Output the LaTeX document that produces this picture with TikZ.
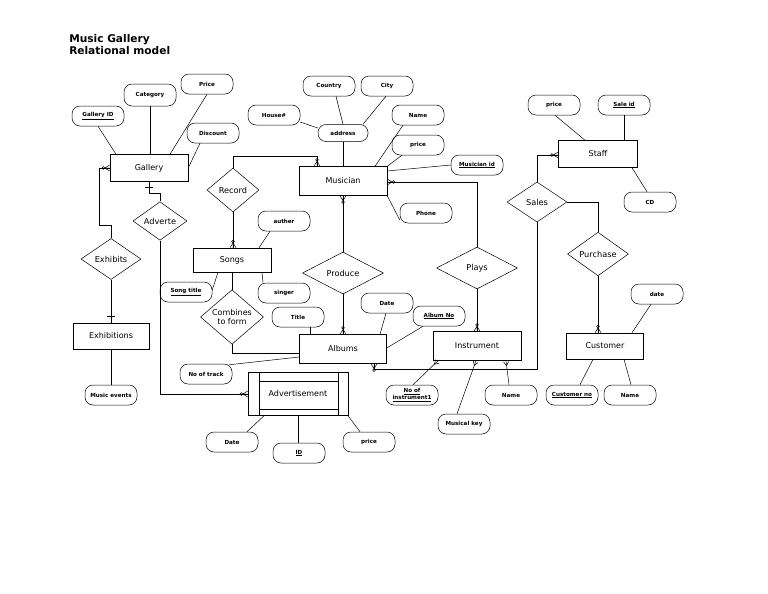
\documentclass[tikz,border=0pt]{standalone}
\usepackage{fontspec}
\setmainfont{DejaVu Sans}
\usetikzlibrary{shapes.geometric}
\newcommand{\crowft}[2]{\begin{scope}[shift={(#1)},rotate=#2]\draw (0,-3)--(5,0)--(0,3) (0,0)--(5,0); \draw (6.4,0) circle[radius=1.4];\end{scope}}
\newcommand{\smallft}[2]{\begin{scope}[shift={(#1)},rotate=#2]\draw (1,-2.5)--(5,0)--(1,2.5);\end{scope}}
\begin{document}
\begin{tikzpicture}[x=1pt,y=-1pt,line width=0.5pt,
  ent/.style={draw,inner sep=0pt,font=\fontsize{8}{9}\selectfont},
  attr/.style={draw,rounded corners=8pt,minimum width=52pt,minimum height=20pt,inner sep=0pt,font=\bfseries\fontsize{5.6}{6}\selectfont},
  rel/.style={draw,diamond,inner sep=0pt,font=\fontsize{8.2}{9}\selectfont,align=center},
  conn/.style={draw,line width=0.5pt}]
\useasboundingbox (0,0) rectangle (768,594);
\node[anchor=north west,align=left,inner sep=0pt,font=\bfseries\fontsize{10.6}{12.5}\selectfont] (heading) at (69,34) {Music Gallery\\Relational model};

% entities
\node[ent,minimum width=78pt,minimum height=27pt] (gallery) at (149,168) {Gallery};
\node[ent,minimum width=88pt,minimum height=29pt] (musician) at (343,181) {Musician};
\node[ent,minimum width=79pt,minimum height=27pt] (staff) at (598,154) {Staff};
\node[ent,minimum width=78pt,minimum height=24pt] (songs) at (232,260) {Songs};
\node[ent,minimum width=87pt,minimum height=29pt] (albums) at (343,349) {Albums};
\node[ent,minimum width=88pt,minimum height=29pt] (instrument) at (477,346) {Instrument};
\node[ent,minimum width=77pt,minimum height=26pt] (customer) at (605,346) {Customer};
\node[ent,minimum width=76pt,minimum height=26pt] (exhibitions) at (111,336) {Exhibitions};
\node[ent,minimum width=100pt,minimum height=43pt] (advert) at (298,394) {Advertisement};
\draw (259,373) -- (259,415.5) (338,373) -- (338,415.5) (259,381) -- (338,381) (259,409) -- (338,409);

% relationships
\node[rel,minimum width=52pt,minimum height=44pt] (record) at (233,190) {Record};
\node[rel,minimum width=54pt,minimum height=36pt] (adverte) at (160,221) {Adverte};
\node[rel,minimum width=60pt,minimum height=41pt] (exhibits) at (111,259) {Exhibits};
\node[rel,minimum width=81pt,minimum height=42pt] (produce) at (343,273) {Produce};
\node[rel,minimum width=81pt,minimum height=42pt] (plays) at (477,268) {Plays};
\node[rel,minimum width=60pt,minimum height=40pt] (sales) at (537,202) {Sales};
\node[rel,minimum width=61pt,minimum height=41pt] (purchase) at (598,254) {Purchase};
\node[rel,minimum width=63pt,minimum height=49pt,font=\fontsize{8}{8.5}\selectfont] (combines) at (232,317) {Combines\\to form};

% attributes
\node[attr] (galleryid) at (98,116) {\underline{Gallery ID}};
\node[attr,minimum height=22pt] (category) at (150,95) {Category};
\node[attr] (gprice) at (207,84) {Price};
\node[attr] (discount) at (213,133) {Discount};
\node[attr] (house) at (274,115) {House\#};
\node[attr] (country) at (329,86) {Country};
\node[attr] (city) at (387,86) {City};
\node[attr] (mname) at (418,115) {Name};
\node[attr] (mprice) at (418,145) {price};
\node[attr] (musicianid) at (477,165) {\underline{Musician id}};
\node[attr] (phone) at (426,213) {Phone};
\node[attr,minimum width=50pt,minimum height=17pt] (address) at (343,133) {address};
\node[attr] (sprice) at (554,105) {price};
\node[attr] (saleid) at (624,105) {\underline{Sale id}};
\node[attr] (cd) at (650,202) {CD};
\node[attr] (auther) at (284,221) {auther};
\node[attr] (singer) at (284,293) {singer};
\node[attr] (songtitle) at (186,292) {\underline{Song title}};
\node[attr] (title) at (298,317) {Title};
\node[attr] (adate) at (387,303) {Date};
\node[attr] (albumno) at (439,316) {\underline{Album No}};
\node[attr] (notrack) at (206,374) {No of track};
\node[attr] (date) at (657,294) {date};
\node[attr] (custno) at (572,395) {\underline{Customer no}};
\node[attr] (cname) at (630,395) {Name};
\node[attr] (iname) at (511,395) {Name};
\node[attr,align=center,font=\bfseries\fontsize{5.6}{6.6}\selectfont] (noinst) at (412,395) {\underline{No of}\\\underline{instrument1}};
\node[attr] (mkey) at (464,424) {Musical key};
\node[attr] (musicev) at (111,395) {Music events};
\node[attr] (advdate) at (232,442) {Date};
\node[attr] (advid) at (299,453) {\underline{ID}};
\node[attr] (advprice) at (369,442) {price};

% attribute links
\draw (galleryid.south) -- ([xshift=-33pt]gallery.north);
\draw (category.south) -- (category.south |- gallery.north);
\draw (gprice.south) -- ([xshift=21pt]gallery.north);
\draw ([xshift=-13pt]discount.south) -- (gallery.east);
\draw ([xshift=7pt]country.south) -- (address.north);
\draw ([xshift=-1pt]city.south) -- ([xshift=20pt]address.north);
\draw ([yshift=-7pt]house.east) -- ([yshift=5pt]address.west);
\draw (address.south) -- (musician.north);
\draw ([xshift=-15pt]mname.south) -- ([xshift=32pt]musician.north);
\draw ([xshift=-16pt]mprice.south) -- (musician.north east);
\draw (musicianid.west) -- ([yshift=10pt]musician.east);
\draw ([yshift=-7pt]phone.west) -- (musician.south east);
\draw ([xshift=-14pt]auther.south) -- ([xshift=27pt]songs.north);
\draw ([xshift=-21pt]singer.north) -- ([xshift=30pt]songs.south);
\draw ([yshift=2pt]songtitle.east) -- ([xshift=-14pt]songs.south);
\draw ([xshift=12pt]title.south) -- ([xshift=-33pt]albums.north);
\draw ([xshift=-1pt]adate.south) -- ([xshift=37pt]albums.north);
\draw ([xshift=-16pt]albumno.south) -- ([yshift=1pt]albums.east);
\draw ([xshift=-3pt,yshift=-1pt]notrack.north east) -- ([yshift=-8pt]albums.west);
\draw ([xshift=1pt]noinst.north) -- ([xshift=-39pt]instrument.south);
\draw ([xshift=-7pt]mkey.north) -- ([xshift=-1pt]instrument.south);
\draw ([xshift=-2pt]iname.north) -- ([xshift=29pt]instrument.south);
\draw ([xshift=1pt]sprice.south) -- ([xshift=-13pt]staff.north);
\draw (saleid.south) -- (saleid.south |- staff.north);
\draw ([xshift=34pt]staff.south) -- ([xshift=-3pt]cd.north);
\draw ([xshift=-6pt]date.south) -- ([xshift=27pt]customer.north);
\draw ([xshift=-12pt]customer.south) -- ([xshift=8pt]custno.north);
\draw ([xshift=19pt]customer.south) -- ([xshift=1pt]cname.north);
\draw ([xshift=-34pt]advert.south) -- ([xshift=15pt]advdate.north);
\draw (advert.south) -- (advert.south |- advid.north);
\draw ([xshift=50pt]advert.south) -- ([xshift=-9pt]advprice.north);
\draw (exhibitions.south) -- (musicev.north);
\smallft{[xshift=-39pt]instrument.south}{224}
\smallft{[xshift=-1pt]instrument.south}{250}
\smallft{[xshift=29pt]instrument.south}{277}

% relationship links
\draw (exhibits.north) |- (99,225) |- (gallery.west);
\crowft{gallery.west}{180}
\draw (exhibits.south) -- (exhibitions.north);
\draw (107,316) -- (115,316);
\draw (gallery.south) |- (160,193) -- (adverte.north);
\draw (145,187) -- (153,187);
\draw (adverte.south) |- (advert.west);
\crowft{advert.west}{180}
\draw (record.north) |- (317,156) -- ([xshift=-26pt]musician.north);
\crowft{[xshift=-26pt]musician.north}{90}
\draw (record.south) -- (record.south |- songs.north);
\crowft{record.south |- songs.north}{90}
\draw (songs.south) -- (combines.north);
\draw (combines.south) |- ([yshift=-4pt]albums.west);
\draw (musician.south) -- (produce.north);
\crowft{musician.south}{270}
\draw (produce.south) -- (albums.north);
\crowft{albums.north}{90}
\draw ([yshift=-1pt]musician.east) -| (plays.north);
\crowft{[yshift=-1pt]musician.east}{0}
\draw (plays.south) -- (instrument.north);
\crowft{instrument.north}{90}
\draw ([yshift=-1pt]staff.west) -| (sales.north);
\crowft{[yshift=-1pt]staff.west}{180}
\draw (sales.east) -| (purchase.north);
\draw (purchase.south) -- (purchase.south |- customer.north);
\crowft{purchase.south |- customer.north}{90}
\draw (sales.south) |- ([xshift=31pt,yshift=-5pt]albums.south) -- ([xshift=31pt]albums.south);
\crowft{[xshift=31pt]albums.south}{270}
\end{tikzpicture}
\end{document}
